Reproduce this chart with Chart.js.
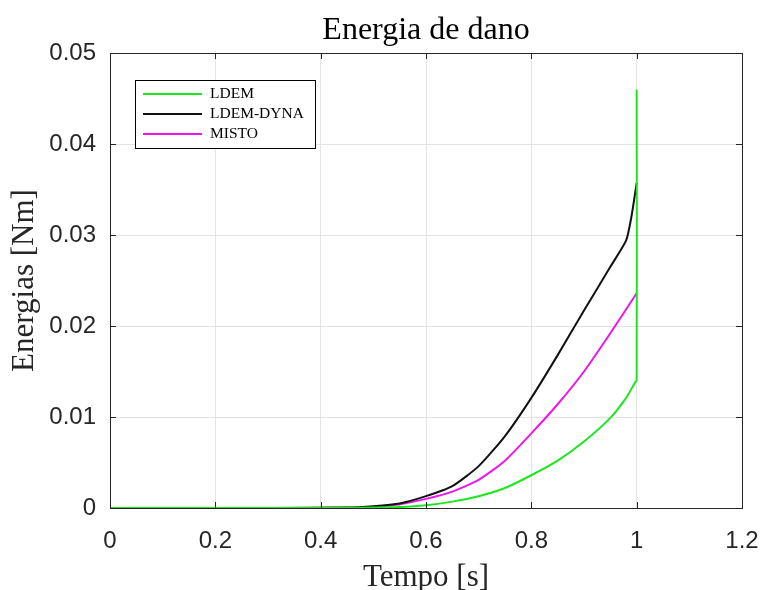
<!DOCTYPE html>
<html>
<head>
<meta charset="utf-8">
<script src="https://cdn.jsdelivr.net/npm/chart.js@4.4.1/dist/chart.umd.min.js"></script>
<style>
  body { margin: 0; background: #fff; }
  canvas { display: block; }
</style>
</head>
<body>
<canvas id="chart" width="762" height="590"></canvas>
<script>
// LDEM
const timeLDEM = [0, 0.3, 0.45, 0.5, 0.55, 0.6, 0.65, 0.7, 0.75, 0.8, 0.85, 0.9, 0.95, 0.98, 0.995, 1.0, 1.0];
const energyLDEM = [0, 0, 0.00002, 0.00005, 0.0001, 0.0003, 0.0007, 0.0013, 0.0022, 0.0036, 0.0052, 0.0073, 0.0099, 0.0121, 0.0136, 0.0141, 0.046];

// LDEM-DYNA
const timeDyna = [0, 0.3, 0.45, 0.5, 0.55, 0.6, 0.65, 0.7, 0.75, 0.8, 0.85, 0.9, 0.95, 0.98, 0.99, 1.0];
const energyDyna = [0, 0, 0.00005, 0.0002, 0.0005, 0.0013, 0.0024, 0.0046, 0.0079, 0.0121, 0.0168, 0.0217, 0.0265, 0.0294, 0.032, 0.0357];

// MISTO
const timeMisto = [0, 0.3, 0.45, 0.5, 0.55, 0.6, 0.65, 0.7, 0.75, 0.8, 0.85, 0.9, 0.95, 1.0];
const energyMisto = [0, 0, 0.00003, 0.0001, 0.0004, 0.001, 0.0018, 0.0031, 0.0052, 0.0082, 0.0114, 0.015, 0.0192, 0.0236];

const xTickLabels = ["0", "0.2", "0.4", "0.6", "0.8", "1", "1.2"];
const yTickLabels = ["0", "0.01", "0.02", "0.03", "0.04", "0.05"];

const toPoints = (xs, ys) => xs.map((x, i) => ({ x: x, y: ys[i] }));

const axisColor = "#262626";

// box around the axes + inward tick marks, like matlab
const boxPlugin = {
  id: "box",
  afterDatasetsDraw(chart) {
    const { ctx, chartArea: a, scales } = chart;
    ctx.save();
    ctx.strokeStyle = axisColor;
    ctx.lineWidth = 1;
    ctx.beginPath();
    scales.x.ticks.forEach((t) => {
      const px = Math.round(scales.x.getPixelForValue(t.value)) + 0.5;
      ctx.moveTo(px, a.bottom);
      ctx.lineTo(px, a.bottom - 6);
      ctx.moveTo(px, a.top);
      ctx.lineTo(px, a.top + 6);
    });
    scales.y.ticks.forEach((t) => {
      const py = Math.round(scales.y.getPixelForValue(t.value)) + 0.5;
      ctx.moveTo(a.left, py);
      ctx.lineTo(a.left + 6, py);
      ctx.moveTo(a.right, py);
      ctx.lineTo(a.right - 6, py);
    });
    ctx.stroke();
    ctx.strokeRect(Math.round(a.left) + 0.5, Math.round(a.top) + 0.5,
      Math.round(a.right - a.left), Math.round(a.bottom - a.top));
    ctx.restore();
  },
};

// legend box in the upper left corner of the axes
const legendPlugin = {
  id: "boxLegend",
  afterDraw(chart) {
    const { ctx, chartArea: a } = chart;
    const x0 = a.left + 25, y0 = a.top + 27, w = 180, h = 68;
    ctx.save();
    ctx.fillStyle = "#fff";
    ctx.fillRect(x0, y0, w, h);
    ctx.strokeStyle = "#000";
    ctx.lineWidth = 1;
    ctx.strokeRect(x0 + 0.5, y0 + 0.5, w, h);
    ctx.font = "15.5px 'Liberation Serif', serif";
    ctx.textBaseline = "middle";
    chart.data.datasets.forEach((ds, i) => {
      const y = y0 + 14 + i * 20;
      ctx.strokeStyle = ds.borderColor;
      ctx.lineWidth = 2;
      ctx.beginPath();
      ctx.moveTo(x0 + 8, y);
      ctx.lineTo(x0 + 67, y);
      ctx.stroke();
      ctx.fillStyle = "#000";
      ctx.fillText(ds.label, x0 + 75, y);
    });
    ctx.restore();
  },
};

new Chart(document.getElementById("chart"), {
  type: "line",
  data: {
    datasets: [
      { label: "LDEM", data: toPoints(timeLDEM, energyLDEM), borderColor: "#1ee61e" },
      { label: "LDEM-DYNA", data: toPoints(timeDyna, energyDyna), borderColor: "#111111" },
      { label: "MISTO", data: toPoints(timeMisto, energyMisto), borderColor: "#ee16ee" },
    ],
  },
  options: {
    responsive: false,
    animation: false,
    parsing: false,
    elements: {
      point: { radius: 0 },
      line: { borderWidth: 2, tension: 0.2 },
    },
    layout: { padding: { left: 0, right: 20, top: 0, bottom: 0 } },
    plugins: {
      legend: { display: false },
      tooltip: { enabled: false },
      title: {
        display: true,
        fullSize: false,
        text: "Energia de dano",
        color: "#000",
        font: { family: "Liberation Serif", size: 32, weight: "normal" },
        padding: { top: 11, bottom: 3.6 },
      },
    },
    scales: {
      x: {
        type: "linear",
        min: 0,
        max: 1.2,
        ticks: {
          stepSize: 0.2,
          padding: 19,
          color: axisColor,
          font: { family: "Liberation Sans", size: 24 },
          maxRotation: 0,
          callback: (v, i) => xTickLabels[i],
        },
        grid: { color: "#e3e3e3", drawTicks: false },
        border: { color: axisColor },
        title: {
          display: true,
          text: "Tempo [s]",
          color: "#262626",
          font: { family: "Liberation Serif", size: 31, weight: "normal", lineHeight: 0.8 },
          padding: { top: 0, bottom: 0 },
        },
        afterFit: (scale) => {
          scale.height = 82;
          scale.paddingLeft = 0;
          scale.paddingRight = 0;
        },
      },
      y: {
        min: 0,
        max: 0.05,
        ticks: {
          stepSize: 0.01,
          padding: 14,
          color: axisColor,
          font: { family: "Liberation Sans", size: 24 },
          callback: (v, i) => yTickLabels[i],
        },
        grid: { color: "#e3e3e3", drawTicks: false },
        border: { color: axisColor },
        title: {
          display: true,
          text: "Energias [Nm]",
          color: "#262626",
          font: { family: "Liberation Serif", size: 31, weight: "normal", lineHeight: 1 },
          padding: { top: 9, bottom: 0 },
        },
        afterFit: (scale) => {
          scale.width = 110;
          scale.paddingTop = 0;
          scale.paddingBottom = 0;
        },
      },
    },
  },
  plugins: [boxPlugin, legendPlugin],
});
</script>
</body>
</html>
